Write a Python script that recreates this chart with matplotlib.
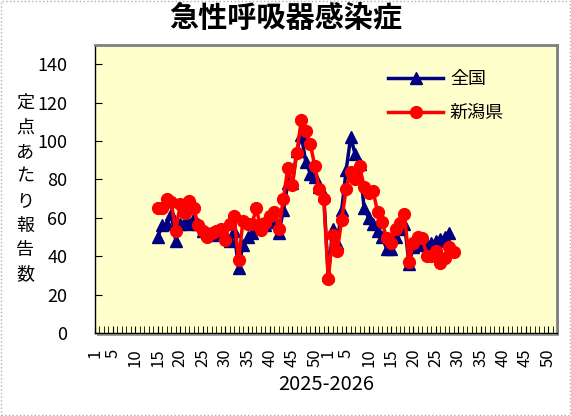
import numpy as np
import matplotlib
matplotlib.use('Agg')
import matplotlib.pyplot as plt
from matplotlib.patches import Rectangle

plt.rcParams['font.family'] = ['Noto Sans CJK JP', 'DejaVu Sans']

# weeks: 2025 w1..w52 followed by 2026 w1..w52
week_labels = list(range(1, 53)) + list(range(1, 53))
label_weeks = [1, 5, 10, 15, 20, 25, 30, 35, 40, 45, 50]

# national, from 2025 week 15 to 2026 week 28
zenkoku_start = 14
zenkoku = [50, 56, 57, 62, 48, 57, 58, 57, 60, 57,
           53, 52, 51, 52, 53, 51, 48, 53, 34, 46,
           50, 52, 55, 57, 56, 58, 60, 52, 64, 78,
           78, 95, 103, 89, 83, 81, 76, 72, 30, 54,
           47, 64, 85, 102, 93, 88, 65, 60, 57, 53,
           50, 44, 44, 50, 54, 57, 36, 45, 46, 47,
           46, 47, 48, 49, 50, 52]

# Niigata, from 2025 week 15 to 2026 week 29
niigata_start = 14
niigata = [65, 65, 70, 68, 53, 67, 62.5, 68.5, 65, 56,
           53, 50, 52, 53, 54, 48.5, 57, 61, 38, 58.5,
           57, 57, 65, 53.5, 57.5, 61, 63, 54, 70, 86,
           77, 94, 111, 105, 98.5, 87, 75, 70, 28, 51,
           42.5, 59, 75, 84, 80, 87, 76, 73, 74, 63,
           58, 49.5, 47, 54, 57.5, 62, 37, 47, 50, 49.5,
           40, 40, 42.5, 36.5, 39, 45, 42]

fig = plt.figure(figsize=(5.71, 4.16), dpi=100)
fig.patch.set_facecolor('white')
fig.add_artist(Rectangle((0.002, 0.002), 0.996, 0.996, transform=fig.transFigure,
                         fill=False, edgecolor='#b0b0b0', linestyle=':', linewidth=1))

ax = fig.add_axes([95 / 571, 1 - 333 / 416, 462 / 571, 288 / 416])
ax.set_facecolor('#ffffcc')

# shadow of plot area
fig.add_artist(Rectangle((97 / 571, 1 - 336 / 416), 462 / 571, 288 / 416,
                         transform=fig.transFigure, facecolor='#a0a0a0',
                         edgecolor='none', zorder=-1))

x_nat = np.arange(zenkoku_start, zenkoku_start + len(zenkoku))
x_nii = np.arange(niigata_start, niigata_start + len(niigata))

ax.plot(x_nat, zenkoku, color='#000080', marker='^', markersize=8,
        linewidth=2.5, label='全国', zorder=3)
ax.plot(x_nii, niigata, color='#ff0000', marker='o', markersize=8.5,
        linewidth=2.5, label='新潟県', zorder=4)

ax.set_xlim(0, 103)
ax.set_ylim(0, 150)
ax.set_yticks(range(0, 141, 20))

pos = [i for i, w in enumerate(week_labels) if w in label_weeks]
ax.set_xticks(pos)
ax.set_xticklabels([str(week_labels[i]) for i in pos], rotation=90, fontsize=12)
ax.set_xticks(range(104), minor=True)
ax.tick_params(axis='x', which='both', direction='in', length=5, pad=11, color='black')
ax.tick_params(axis='y', direction='in', length=5, pad=20, labelsize=13)

for s in ['top', 'right']:
    ax.spines[s].set_color('#808080')
    ax.spines[s].set_linewidth(2)
for s in ['left', 'bottom']:
    ax.spines[s].set_color('black')
    ax.spines[s].set_linewidth(1)

ax.set_xlabel('2025-2026', fontsize=14.5, labelpad=5)

leg = ax.legend(loc='upper left', bbox_to_anchor=(0.6, 0.97), frameon=False,
                fontsize=13, handlelength=3, labelspacing=0.9, handletextpad=0.4)

fig.text(286 / 571, 1 - 18 / 416, '急性呼吸器感染症', ha='center', va='center',
         fontsize=21, fontweight='bold')

ylabel = '定点あたり報告数'
for k, ch in enumerate(ylabel):
    fig.text(25 / 571, 1 - (103 + k * 24.5) / 416, ch, ha='center', va='center',
             fontsize=13)

plt.savefig('out.png', dpi=100)
